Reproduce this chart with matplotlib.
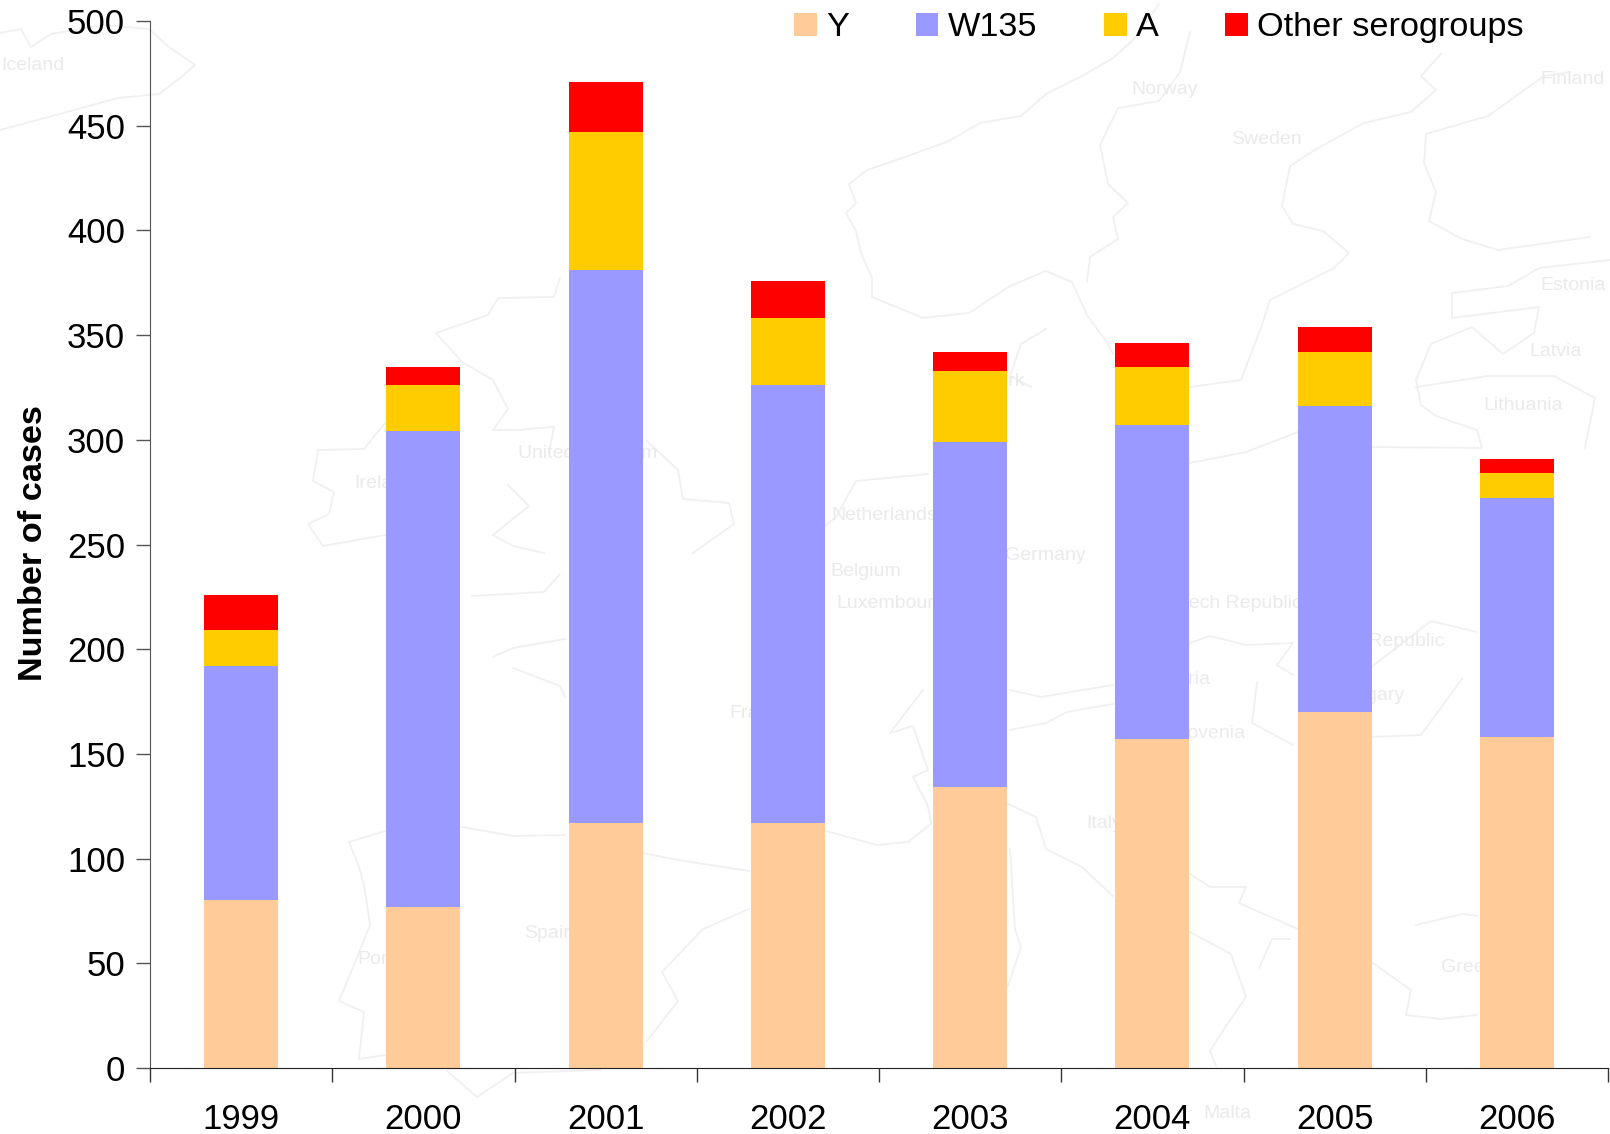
import matplotlib
matplotlib.use('Agg')
import matplotlib.pyplot as plt
import numpy as np

plt.rcParams['font.family'] = ['Liberation Sans', 'DejaVu Sans']

years = ['1999', '2000', '2001', '2002', '2003', '2004', '2005', '2006']
serogroup_y = [80, 77, 117, 117, 134, 157, 170, 158]
serogroup_w135 = [112, 227, 264, 209, 165, 150, 146, 114]
serogroup_a = [17, 22, 66, 32, 34, 28, 26, 12]
serogroup_other = [17, 9, 24, 18, 9, 11, 12, 7]

# faint map behind the chart, rough outlines traced by eye (x, y in image pixels)
map_lines = [
    # iceland
    [(0, 33), (21, 29), (31, 47), (51, 34), (103, 25), (149, 29), (169, 47), (195, 65), (180, 78),
     (159, 94), (118, 98), (67, 112), (0, 130)],
    # norway
    [(1159, 4), (1133, 40), (1113, 58), (1082, 76), (1046, 94), (1021, 116), (980, 123), (949, 141),
     (908, 156), (867, 170), (849, 184), (856, 203), (846, 213), (856, 231), (861, 253), (872, 278),
     (872, 297), (923, 318), (969, 313), (1010, 286), (1046, 271)],
    # sweden
    [(1046, 271), (1072, 282), (1087, 315), (1108, 344), (1113, 354)],
    [(1190, 387), (1241, 380), (1262, 325), (1270, 300), (1298, 286), (1334, 268), (1349, 253),
     (1323, 231), (1293, 224), (1282, 206), (1290, 166), (1318, 148), (1364, 123), (1411, 112),
     (1436, 90), (1421, 76), (1441, 54)],
    [(1190, 32), (1180, 72), (1159, 101), (1118, 108), (1100, 145), (1108, 184), (1128, 203),
     (1113, 217), (1118, 239), (1090, 257), (1087, 282)],
    # finland
    [(1570, 72), (1544, 76), (1488, 116), (1426, 134), (1424, 163), (1436, 192), (1429, 221),
     (1462, 239), (1498, 250), (1590, 237)],
    # baltic
    [(1610, 260), (1539, 268), (1508, 286), (1452, 293), (1452, 318), (1539, 307), (1534, 333),
     (1503, 354), (1472, 327), (1431, 344), (1416, 380), (1421, 405), (1436, 416), (1477, 430),
     (1482, 448), (1370, 447)],
    [(1416, 387), (1488, 376), (1554, 376), (1595, 398), (1585, 448)],
    # denmark and north germany
    [(1046, 329), (1021, 344), (1010, 376), (1031, 387)],
    [(1190, 463), (1246, 452), (1298, 432)],
    [(928, 474), (856, 481), (836, 517), (805, 542)],
    # scotland and england
    [(560, 278), (554, 297), (498, 298), (488, 315), (436, 333), (462, 362), (493, 380), (508, 409),
     (493, 430), (518, 430), (554, 427), (549, 452)],
    [(647, 441), (678, 470), (683, 499), (729, 503), (734, 524), (693, 553)],
    # ireland
    [(385, 423), (364, 449), (318, 450), (313, 481), (334, 492), (329, 514), (308, 524), (323, 546),
     (385, 535)],
    # wales
    [(508, 485), (529, 506), (493, 535), (513, 546), (544, 553)],
    # brittany and france
    [(472, 596), (544, 592), (560, 574)],
    [(493, 657), (513, 648), (565, 639)],
    [(513, 668), (560, 686), (565, 697)],
    # iberia
    [(385, 831), (349, 842), (359, 867), (364, 885), (370, 925), (354, 965), (339, 1001), (364, 1012),
     (359, 1059), (385, 1055)],
    [(462, 827), (513, 836), (565, 835)],
    [(642, 853), (678, 860), (749, 871)],
    [(749, 909), (703, 929), (662, 972), (678, 1001), (647, 1041)],
    [(447, 1071), (477, 1097), (513, 1073), (600, 1070)],
    # alps and italy
    [(923, 690), (890, 733), (913, 726), (928, 770), (913, 777), (928, 806), (931, 824), (908, 842),
     (877, 845), (826, 831)],
    [(1010, 690), (1041, 697), (1113, 685)],
    [(1113, 704), (1067, 712), (1046, 723), (1010, 730)],
    [(1008, 804), (1036, 817), (1046, 849), (1082, 867), (1113, 896)],
    [(1010, 849), (1015, 929), (1021, 947), (1008, 986)],
    # balkans and greece
    [(1190, 874), (1210, 887), (1246, 887), (1239, 903), (1298, 929)],
    [(1190, 932), (1231, 954), (1246, 997), (1226, 1026), (1210, 1051), (1216, 1066)],
    [(1259, 968), (1272, 939), (1290, 939)],
    [(1416, 925), (1462, 914), (1477, 916)],
    [(1370, 961), (1411, 990), (1406, 1015), (1441, 1019), (1477, 1015)],
    # central europe
    [(1190, 643), (1210, 636), (1246, 645), (1293, 643), (1277, 665), (1293, 675)],
    [(1370, 737), (1421, 735), (1462, 679)],
    [(1370, 668), (1431, 621), (1477, 632)],
    [(1257, 683), (1252, 723), (1293, 745)],
]
map_names = ['Iceland', 'Norway', 'Sweden', 'Finland', 'Estonia', 'Latvia', 'Lithuania', 'Denmark',
             'Ireland', 'United Kingdom', 'Netherlands', 'Belgium', 'Luxembourg', 'Germany',
             'Czech Republic', 'Slovak Republic', 'Austria', 'Hungary', 'Slovenia', 'France',
             'Spain', 'Portugal', 'Italy', 'Malta', 'Greece']
map_name_x = [1, 1131, 1231, 1540, 1540, 1529, 1483, 945, 354, 518, 831, 830, 836, 1005,
              1165, 1304, 1150, 1330, 1170, 729, 524, 357, 1086, 1203, 1441]
map_name_y = [65, 90, 139, 80, 285, 351, 405, 382, 483, 454, 516, 571, 603, 556, 604, 642, 680,
              695, 733, 714, 934, 959, 824, 1113, 967]

fig = plt.figure(figsize=(16.10, 11.34), dpi=100)

ax_map = fig.add_axes([0, 0, 1, 1])
ax_map.set_xlim(0, 1610)
ax_map.set_ylim(1134, 0)
ax_map.axis('off')
for line in map_lines:
    pts = np.array(line)
    ax_map.plot(pts[:, 0], pts[:, 1], color='#F0F0F0', lw=1.3)
for name, nx, ny in zip(map_names, map_name_x, map_name_y):
    ax_map.text(nx, ny, name, fontsize=14, color='#EAEAEA', ha='left', va='center', clip_on=True)

ax = fig.add_axes([150 / 1610, 1 - 1068 / 1134, 1458 / 1610, 1047 / 1134])
ax.patch.set_alpha(0)

x = np.arange(len(years))
w = 0.405
bottom = np.zeros(len(years))
series = [(serogroup_y, '#FFCC99', 'Y'),
          (serogroup_w135, '#9999FF', 'W135'),
          (serogroup_a, '#FFCC00', 'A'),
          (serogroup_other, '#FF0000', 'Other serogroups')]
for vals, col, lab in series:
    ax.bar(x, vals, w, bottom=bottom, color=col, label=lab)
    bottom += np.array(vals)

ax.set_xlim(-0.5, len(years) - 0.5)
ax.set_ylim(0, 500)
ax.set_yticks(range(0, 501, 50))
ax.set_xticks(np.arange(-0.5, len(years)), labels=[])
ax.set_xticks(x, labels=years, minor=True)
ax.tick_params(axis='x', which='major', length=10, direction='out', width=1, color='#333333')
ax.tick_params(axis='x', which='minor', length=0, pad=25, labelsize=25)
ax.tick_params(axis='y', length=10, width=1, direction='out', labelsize=25, pad=8, color='#555555')
ax.spines['top'].set_visible(False)
ax.spines['right'].set_visible(False)
ax.spines['left'].set_color('#555555')
ax.spines['bottom'].set_color('#222222')
ax.set_ylabel('Number of cases', fontsize=24.7, fontweight='bold')
ax.yaxis.set_label_coords(-0.0693, 0.5017)

ax.legend(loc='center right', ncol=4, frameon=False, fontsize=24.7, handlelength=0.67,
          handleheight=0.67, handletextpad=0.26, columnspacing=1.95,
          bbox_to_anchor=(0.9424, 0.9935), borderpad=0, borderaxespad=0)

fig.savefig('out.png', dpi=100)
